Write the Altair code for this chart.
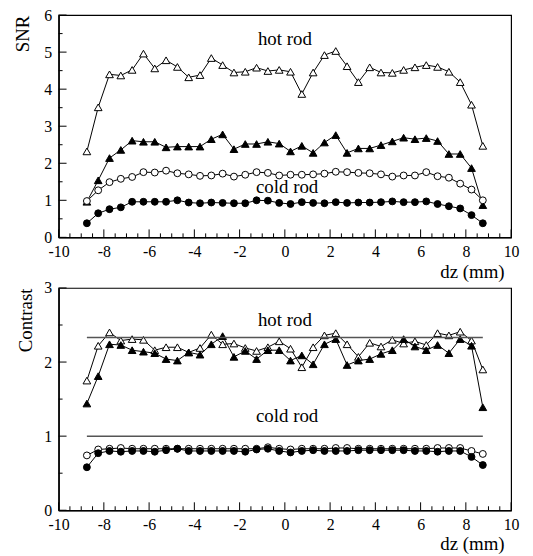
import altair as alt
import pandas as pd

FONT = "Liberation Serif"

dz = [-8.75, -8.25, -7.75, -7.25, -6.75, -6.25, -5.75, -5.25, -4.75, -4.25, -3.75, -3.25,
      -2.75, -2.25, -1.75, -1.25, -0.75, -0.25, 0.25, 0.75, 1.25, 1.75, 2.25, 2.75,
      3.25, 3.75, 4.25, 4.75, 5.25, 5.75, 6.25, 6.75, 7.25, 7.75, 8.25, 8.75]

# SNR panel
snr_hot_open = [2.32, 3.51, 4.40, 4.37, 4.52, 4.96, 4.56, 4.78, 4.60, 4.32, 4.38, 4.84,
                4.65, 4.45, 4.47, 4.58, 4.49, 4.52, 4.47, 3.87, 4.45, 4.92, 5.03, 4.62,
                4.19, 4.59, 4.45, 4.44, 4.52, 4.59, 4.65, 4.60, 4.47, 4.19, 3.58, 2.47]
snr_hot_filled = [0.96, 1.54, 2.14, 2.36, 2.61, 2.58, 2.58, 2.43, 2.45, 2.45, 2.45, 2.65,
                  2.78, 2.38, 2.52, 2.52, 2.58, 2.53, 2.32, 2.47, 2.28, 2.56, 2.76, 2.28,
                  2.40, 2.40, 2.49, 2.59, 2.69, 2.65, 2.68, 2.60, 2.25, 2.25, 1.87, 0.87]
snr_cold_open = [0.98, 1.27, 1.49, 1.58, 1.63, 1.76, 1.75, 1.80, 1.73, 1.70, 1.66, 1.67,
                 1.72, 1.64, 1.69, 1.76, 1.74, 1.67, 1.69, 1.69, 1.70, 1.72, 1.77, 1.76,
                 1.74, 1.73, 1.70, 1.64, 1.67, 1.67, 1.76, 1.65, 1.61, 1.45, 1.29, 1.00]
snr_cold_filled = [0.38, 0.65, 0.76, 0.81, 0.96, 0.96, 0.96, 0.96, 1.00, 0.94, 0.92, 0.94,
                   0.93, 0.92, 0.92, 1.00, 0.99, 0.93, 0.90, 0.95, 0.93, 0.92, 0.95, 0.93,
                   0.94, 0.94, 0.95, 0.97, 0.95, 0.95, 0.97, 0.90, 0.84, 0.78, 0.60, 0.38]

# Contrast panel
con_hot_open = [1.75, 2.22, 2.40, 2.29, 2.31, 2.30, 2.16, 2.20, 2.20, 2.13, 2.19, 2.37,
                2.24, 2.25, 2.19, 2.15, 2.20, 2.28, 2.18, 1.93, 2.20, 2.36, 2.39, 2.24,
                2.07, 2.26, 2.21, 2.30, 2.25, 2.28, 2.23, 2.39, 2.36, 2.41, 2.29, 1.90]
con_hot_filled = [1.44, 1.81, 2.24, 2.23, 2.16, 2.14, 2.12, 2.04, 2.02, 2.13, 2.10, 2.24,
                  2.35, 2.07, 2.15, 2.04, 2.16, 2.16, 2.02, 2.09, 1.97, 2.24, 2.31, 1.96,
                  2.02, 2.04, 2.11, 2.16, 2.31, 2.21, 2.16, 2.23, 2.12, 2.31, 2.22, 1.39]
con_cold_open = [0.74, 0.82, 0.83, 0.84, 0.83, 0.83, 0.83, 0.83, 0.83, 0.83, 0.83, 0.83,
                 0.83, 0.83, 0.83, 0.83, 0.85, 0.83, 0.82, 0.83, 0.83, 0.83, 0.84, 0.84,
                 0.83, 0.83, 0.83, 0.83, 0.83, 0.83, 0.83, 0.84, 0.84, 0.84, 0.80, 0.76]
con_cold_filled = [0.58, 0.77, 0.80, 0.79, 0.80, 0.80, 0.79, 0.81, 0.83, 0.80, 0.80, 0.80,
                   0.80, 0.80, 0.79, 0.82, 0.83, 0.80, 0.78, 0.80, 0.81, 0.80, 0.80, 0.80,
                   0.81, 0.81, 0.81, 0.81, 0.81, 0.80, 0.80, 0.79, 0.80, 0.80, 0.72, 0.61]

# reference (true) contrast levels
ref_levels = [2.33, 1.0]
ref_x_start = [-8.75, -8.75]
ref_x_end = [8.75, 8.75]

# annotations
snr_text = ["hot rod", "cold rod"]
snr_text_x = [0.0, 0.1]
snr_text_y = [5.2, 1.2]
con_text = ["hot rod", "cold rod"]
con_text_x = [0.0, 0.1]
con_text_y = [2.49, 1.19]

x_label_vals = [-10, -8, -6, -4, -2, 0, 2, 4, 6, 8, 10]
x_minor_vals = [-9.5, -9, -8.5, -7.5, -7, -6.5, -5.5, -5, -4.5, -3.5, -3, -2.5, -1.5, -1,
                -0.5, 0.5, 1, 1.5, 2.5, 3, 3.5, 4.5, 5, 5.5, 6.5, 7, 7.5, 8.5, 9, 9.5]
snr_label_vals = [0, 1, 2, 3, 4, 5, 6]
snr_minor_vals = [0.5, 1.5, 2.5, 3.5, 4.5, 5.5]
con_label_vals = [0, 1, 2, 3]
con_minor_vals = [0.5, 1.5, 2.5]

W, H = 456, 224
XMIN, XMAX = -10, 10
MAJOR, MINOR = 8, 4          # tick lengths in pixels
SERIES = ["hot_open", "hot_filled", "cold_open", "cold_filled"]
HYPHEN = "datum.value < 0 ? '-' + abs(datum.value) : '' + datum.value"

# invisible axes on the opposite sides (keep the layer's axes independent)
blank_x = alt.Axis(orient="top", labels=False, ticks=False, domain=False, grid=False,
                   title=None)
blank_y = alt.Axis(orient="right", labels=False, ticks=False, domain=False, grid=False,
                   title=None)


def make_panel(values, ymax, ylabels, yminor, ytitle, title_x, texts, tx, ty, refs=None):
    rows = []
    for name, vals in zip(SERIES, values):
        for x, v in zip(dz, vals):
            rows.append({"dz": x, "v": v, "s": name})
    df = pd.DataFrame(rows)
    xs = alt.Scale(domain=[XMIN, XMAX], nice=False, zero=False)
    ys = alt.Scale(domain=[0, ymax], nice=False, zero=True)
    xu = (XMAX - XMIN) / W   # data units per pixel
    yu = ymax / H

    main_x = alt.Axis(orient="bottom", values=x_label_vals, ticks=False, tickSize=0,
                      grid=False, domain=True, domainColor="black", domainWidth=1.5,
                      labelFont=FONT, labelFontSize=16, labelColor="black", labelPadding=6,
                      labelFlush=False, labelExpr=HYPHEN,
                      title="dz (mm)", titleFont=FONT, titleFontSize=19,
                      titleFontWeight="normal", titleColor="black", titleAnchor="end",
                      titleAlign="right", titleBaseline="alphabetic", titleX=449, titleY=40)
    main_y = alt.Axis(orient="left", values=ylabels, ticks=False, tickSize=0, grid=False,
                      domain=True, domainColor="black", domainWidth=1.5,
                      labelFont=FONT, labelFontSize=16, labelColor="black", labelPadding=7,
                      labelFlush=False, title=ytitle, titleFont=FONT, titleFontSize=19,
                      titleFontWeight="normal", titleColor="black", titleAngle=-90,
                      titleAlign="right", titleBaseline="alphabetic", titleX=title_x, titleY=0)

    def tick_rules(xvals, yvals, length):
        xdf = pd.DataFrame({"t": xvals, "a": [0.0] * len(xvals),
                            "b": [length * yu] * len(xvals)})
        ydf = pd.DataFrame({"t": yvals, "a": [float(XMIN)] * len(yvals),
                            "b": [XMIN + length * xu] * len(yvals)})
        xr = alt.Chart(xdf).mark_rule(color="black", strokeWidth=1).encode(
            x=alt.X("t:Q", scale=xs, axis=None),
            y=alt.Y("a:Q", scale=ys, axis=None), y2="b:Q")
        yr = alt.Chart(ydf).mark_rule(color="black", strokeWidth=1).encode(
            y=alt.Y("t:Q", scale=ys, axis=None),
            x=alt.X("a:Q", scale=xs, axis=None), x2="b:Q")
        return [xr, yr]

    lines = alt.Chart(df).mark_line(color="black", strokeWidth=1).encode(
        x=alt.X("dz:Q", scale=xs, axis=main_x),
        y=alt.Y("v:Q", scale=ys, axis=main_y),
        detail="s:N")
    tri = alt.Chart(df).transform_filter(
        alt.FieldOneOfPredicate(field="s", oneOf=["hot_open", "hot_filled"])
    ).mark_point(shape="triangle-up", filled=True, stroke="black", strokeWidth=1,
                 size=60, opacity=1).encode(
        x=alt.X("dz:Q", scale=xs, axis=blank_x),
        y=alt.Y("v:Q", scale=ys, axis=blank_y),
        fill=alt.Fill("s:N", scale=alt.Scale(domain=["hot_open", "hot_filled"],
                                             range=["white", "black"]), legend=None),
    )
    circ = alt.Chart(df).transform_filter(
        alt.FieldOneOfPredicate(field="s", oneOf=["cold_open", "cold_filled"])
    ).mark_point(shape="circle", filled=True, stroke="black", strokeWidth=1,
                 size=48, opacity=1).encode(
        x=alt.X("dz:Q", scale=xs, axis=None),
        y=alt.Y("v:Q", scale=ys, axis=None),
        fill=alt.Fill("s:N", scale=alt.Scale(domain=["cold_open", "cold_filled"],
                                             range=["white", "black"]), legend=None),
    )
    tdf = pd.DataFrame({"dz": tx, "v": ty, "t": texts})
    text = alt.Chart(tdf).mark_text(font=FONT, fontSize=19, align="center",
                                    baseline="alphabetic", color="black").encode(
        x=alt.X("dz:Q", scale=xs, axis=None),
        y=alt.Y("v:Q", scale=ys, axis=None),
        text="t:N")
    layers = [lines, tri]
    if refs is not None:
        rdf = pd.DataFrame({"dz": ref_x_start, "x1": ref_x_end, "v": ref_levels})
        rule = alt.Chart(rdf).mark_rule(color="#555555", strokeWidth=1.5).encode(
            x=alt.X("dz:Q", scale=xs, axis=None), x2="x1:Q",
            y=alt.Y("v:Q", scale=ys, axis=None))
        layers.append(rule)
    layers += tick_rules(x_label_vals, ylabels, MAJOR)
    layers += tick_rules(x_minor_vals, yminor, MINOR)
    layers += [circ, text]
    return alt.layer(*layers).properties(width=W, height=H)


top = make_panel([snr_hot_open, snr_hot_filled, snr_cold_open, snr_cold_filled], 6,
                 snr_label_vals, snr_minor_vals, "SNR", -30, snr_text, snr_text_x, snr_text_y)
bottom = make_panel([con_hot_open, con_hot_filled, con_cold_open, con_cold_filled], 3,
                    con_label_vals, con_minor_vals, "Contrast", -27, con_text, con_text_x,
                    con_text_y, refs=True)

chart = alt.vconcat(top, bottom, spacing=51, bounds="flush").properties(
    padding={"left": 5, "top": -4, "right": 5, "bottom": 0}
).configure_view(stroke="black", strokeWidth=1.2)

chart.save("out.html", embed_options={"renderer": "svg", "actions": False})
